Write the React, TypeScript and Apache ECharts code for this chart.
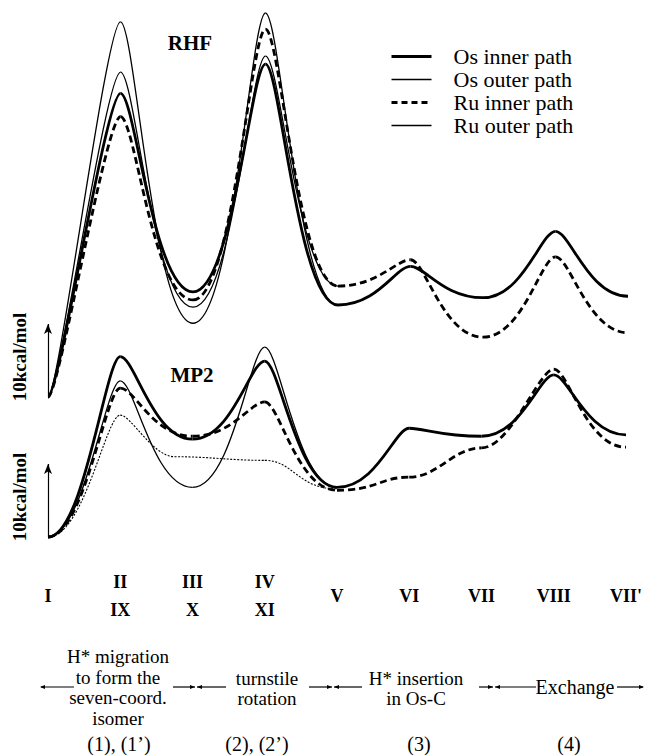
import React, { useEffect, useRef } from 'react';
import * as echarts from 'echarts';

// Stationary points along the reaction coordinate
const upperLabels = ['I', 'II', 'III', 'IV', 'V', 'VI', 'VII', 'VIII', "VII'"];
const lowerLabels = ['', 'IX', 'X', 'XI', '', '', '', '', ''];
const seriesNames = ['Os inner path', 'Os outer path', 'Ru inner path', 'Ru outer path'];

// RHF energies (kcal/mol, relative to I) at each stationary point
const rhfOsInner = [[0, 0], [1, 41.6], [2, 14.4], [3, 45.6], [4, 12.6], [5, 17.9], [6, 13.6], [7, 22.7], [8, 13.8]];
const rhfOsOuter = [[0, 0], [1, 51.4], [2, 10.1], [3, 52.6], [4, 12.6]];
const rhfRuInner = [[0, 0], [1, 38.4], [2, 13.3], [3, 50.4], [4, 15.2], [5, 18.8], [6, 8.2], [7, 19.2], [8, 8.8]];
const rhfRuOuter = [[0, 0], [1, 44.5], [2, 12.3], [3, 46.7], [4, 15.2]];

// MP2 energies (kcal/mol, relative to I)
const mp2OsInner = [[0, 0], [1, 24.7], [2, 13.4], [3, 24.1], [4, 6.8], [5, 14.9], [6, 13.8], [7, 22.2], [8, 14.0]];
const mp2OsOuter = [[0, 0], [1, 21.4], [2, 6.8], [3, 26.0], [4, 6.8]];
const mp2RuInner = [[0, 0], [1, 20.4], [2, 13.8], [3, 18.5], [4, 6.4], [5, 8.2], [6, 12.2], [7, 23.0], [8, 12.3]];
const mp2RuOuter = [[0, 0], [1, 16.7], [1.75, 11.0], [3, 10.5], [4, 6.6]];

// Scale bar (10 kcal/mol)
const scaleBar = [0, 10];

const FONT = "'Liberation Serif', 'Times New Roman', serif";
const PX_PER_KCAL = 7.3;
const RHF_BASE = 397;
const MP2_BASE = 537;
const RHF_MAX = 54;
const MP2_MAX = 32;

// tangent-handle lengths (fraction of segment width) for the drawn profile
const PEAK = 0.2;
const VALLEY = 0.55;
const SHOULDER = 0.4;

function handleOf(pts: number[][], j: number, startHandle: number) {
  const n = pts.length;
  if (j === 0) return startHandle;
  const y = pts[j][1];
  const yp = pts[j - 1][1];
  if (j === n - 1) return y < yp ? VALLEY : PEAK;
  const yn = pts[j + 1][1];
  if (y > yp && y > yn) return PEAK;
  if (y < yp && y < yn) return VALLEY;
  return SHOULDER;
}

function curve(name: string, pts: number[][], idx: number, width: number, dash: number[] | null, startHandle: number) {
  return {
    type: 'custom',
    name,
    coordinateSystem: 'cartesian2d',
    xAxisIndex: idx,
    yAxisIndex: idx,
    data: pts,
    encode: { x: 0, y: 1 },
    silent: true,
    clip: false,
    renderItem: (params: any, api: any) => {
      const i = params.dataIndex;
      if (i === 0) return null;
      const p0 = api.coord(pts[i - 1]);
      const p1 = api.coord([api.value(0), api.value(1)]);
      const dx = p1[0] - p0[0];
      const h0 = handleOf(pts, i - 1, startHandle) * dx;
      const h1 = handleOf(pts, i, startHandle) * dx;
      return {
        type: 'bezierCurve',
        shape: {
          x1: p0[0], y1: p0[1], x2: p1[0], y2: p1[1],
          cpx1: p0[0] + h0, cpy1: p0[1], cpx2: p1[0] - h1, cpy2: p1[1],
        },
        style: { stroke: '#000', fill: 'none', lineWidth: width, lineDash: dash, lineCap: 'butt' },
      };
    },
  };
}

// empty line series that only provide the legend samples
function legendLine(name: string, width: number, type: any) {
  return {
    type: 'line',
    name,
    data: [],
    xAxisIndex: 0,
    yAxisIndex: 0,
    symbol: 'none',
    silent: true,
    color: '#000',
    lineStyle: { color: '#000', width, type },
  };
}

function scaleSeries(idx: number) {
  return {
    type: 'line',
    name: 'scale' + idx,
    data: [],
    xAxisIndex: idx,
    yAxisIndex: idx,
    symbol: 'none',
    silent: true,
    clip: false,
    markLine: {
      silent: true,
      symbol: ['none', 'arrow'],
      symbolSize: [6, 10],
      label: { show: false },
      lineStyle: { color: '#000', width: 1.2, type: 'solid' },
      data: [[{ coord: [0, scaleBar[0]] }, { coord: [0, scaleBar[1]] }]],
    },
  };
}

function txt(text: string, x: number, y: number, size: number, bold: boolean, lineHeight?: number, rotation?: number) {
  return {
    type: 'text',
    x,
    y,
    rotation: rotation || 0,
    silent: true,
    style: {
      text,
      fill: '#000',
      fontFamily: FONT,
      fontSize: size,
      fontWeight: bold ? 'bold' : 'normal',
      lineHeight: lineHeight || Math.round(size * 1.15),
      align: 'center',
      verticalAlign: 'middle',
      textAlign: 'center',
      textVerticalAlign: 'middle',
    },
  };
}

function seg(x1: number, x2: number, y: number) {
  return { type: 'line', silent: true, shape: { x1, y1: y, x2, y2: y }, style: { stroke: '#000', lineWidth: 1.2 } };
}
function head(x: number, y: number, dir: number) {
  return {
    type: 'polygon',
    silent: true,
    shape: { points: [[x, y], [x - dir * 5, y - 2], [x - dir * 5, y + 2]] },
    style: { fill: '#000' },
  };
}
function separator(a: number, m: number, b: number, y: number) {
  return [seg(a, m - 1, y), head(m - 1, y, 1), seg(m + 1, b, y), head(m + 1, y, -1)];
}

export default function App() {
  const ref = useRef<HTMLDivElement>(null);
  useEffect(() => {
    const chart = echarts.init(ref.current!, null, { renderer: 'svg' });
    const arrowY = 687;
    const option: any = {
      animation: false,
      backgroundColor: '#fff',
      grid: [
        { left: 48, width: 580, top: RHF_BASE - RHF_MAX * PX_PER_KCAL, height: RHF_MAX * PX_PER_KCAL },
        { left: 48, width: 580, top: MP2_BASE - MP2_MAX * PX_PER_KCAL, height: MP2_MAX * PX_PER_KCAL },
      ],
      xAxis: [
        { gridIndex: 0, type: 'value', min: 0, max: 8, interval: 1, show: false },
        {
          gridIndex: 1,
          type: 'value',
          min: 0,
          max: 8,
          interval: 1,
          axisLine: { show: false },
          axisTick: { show: false },
          splitLine: { show: false },
          axisLabel: {
            show: true,
            showMinLabel: true,
            showMaxLabel: true,
            margin: 59,
            verticalAlign: 'middle',
            lineHeight: 28,
            fontFamily: FONT,
            fontWeight: 'bold',
            fontSize: 18,
            color: '#000',
            formatter: (v: number) => {
              const i = Math.round(v);
              if (Math.abs(v - i) > 1e-6 || i < 0 || i > 8) return '';
              return lowerLabels[i] ? upperLabels[i] + '\n' + lowerLabels[i] : upperLabels[i];
            },
          },
        },
      ],
      yAxis: [
        { gridIndex: 0, type: 'value', min: 0, max: RHF_MAX, show: false },
        { gridIndex: 1, type: 'value', min: 0, max: MP2_MAX, show: false },
      ],
      legend: {
        data: seriesNames,
        orient: 'vertical',
        left: 385,
        top: 40,
        itemWidth: 40,
        itemHeight: 14,
        itemGap: 0,
        selectedMode: false,
        itemStyle: { color: 'rgba(0,0,0,0)', borderWidth: 0 },
        lineStyle: { width: 'inherit', type: 'inherit', color: 'inherit' },
        textStyle: { fontFamily: FONT, fontSize: 22, lineHeight: 23, color: '#000', padding: [0, 0, 0, 17] },
      },
      series: [
        legendLine(seriesNames[0], 3, 'solid'),
        legendLine(seriesNames[1], 1.4, 'solid'),
        legendLine(seriesNames[2], 3, [6, 4]),
        legendLine(seriesNames[3], 1.4, 'solid'),
        scaleSeries(0),
        scaleSeries(1),
        curve(seriesNames[0], rhfOsInner, 0, 2.8, null, 0.15),
        curve(seriesNames[1], rhfOsOuter, 0, 1.3, null, 0.15),
        curve(seriesNames[2], rhfRuInner, 0, 2.8, [7, 4], 0.15),
        curve(seriesNames[3], rhfRuOuter, 0, 1.3, null, 0.15),
        curve(seriesNames[0], mp2OsInner, 1, 2.8, null, 0.5),
        curve(seriesNames[1], mp2OsOuter, 1, 1.3, null, 0.5),
        curve(seriesNames[2], mp2RuInner, 1, 2.8, [7, 4], 0.5),
        curve(seriesNames[3], mp2RuOuter, 1, 1.1, [2, 1.5], 0.5),
      ],
      graphic: [
        txt('RHF', 190, 43, 21, true),
        txt('MP2', 192, 375, 21, true),
        txt('10kcal/mol', 19, 357, 19, true, 19, Math.PI / 2),
        txt('10kcal/mol', 19, 497, 19, true, 19, Math.PI / 2),
        txt('H* migration\nto form the\nseven-coord.\nisomer', 118, 687.5, 19, false, 20.5),
        txt('turnstile\nrotation', 267, 688.5, 19, false, 20.5),
        txt('H* insertion\nin Os-C', 416, 688.5, 19, false, 20.5),
        txt('Exchange', 575, arrowY, 20, false),
        txt('(1), (1\u2019)', 119, 744, 20, false),
        txt('(2), (2\u2019)', 257, 744, 20, false),
        txt('(3)', 419, 744, 20, false),
        txt('(4)', 569, 744, 20, false),
        seg(41, 74, arrowY),
        head(40, arrowY, -1),
        ...separator(173, 196, 226, arrowY),
        ...separator(309, 333, 362, arrowY),
        ...separator(479, 494, 536, arrowY),
        seg(617, 643, arrowY),
        head(644, arrowY, 1),
      ],
    };
    chart.setOption(option);
    return () => chart.dispose();
  }, []);
  return <div ref={ref} style={{ position: 'absolute', left: 0, top: 0, width: 645, height: 755, background: '#fff' }} />;
}
